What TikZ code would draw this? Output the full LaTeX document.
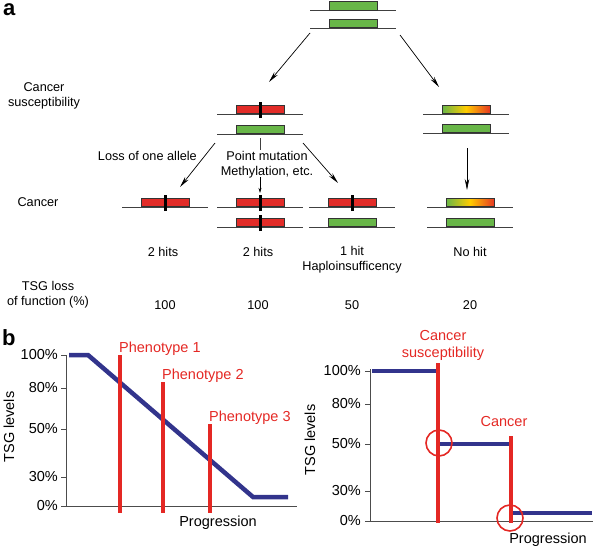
\documentclass[tikz,border=0pt]{standalone}
\usepackage{fontspec}
\setmainfont{Liberation Sans}
\usetikzlibrary{arrows.meta}
\definecolor{geneGreen}{RGB}{104,182,72}
\definecolor{geneRed}{RGB}{226,44,40}
\definecolor{tsgBlue}{RGB}{50,52,140}
\definecolor{cutRed}{RGB}{228,40,36}
\tikzset{
  chromline/.style={draw=black!75, line width=0.8pt},
  genebox/.style={draw=black!80, line width=0.6pt, minimum width=48pt, minimum height=8.5pt, inner sep=0pt, anchor=south},
  greenbox/.style={genebox, fill=geneGreen},
  redbox/.style={genebox, fill=geneRed},
  gradbox/.style={genebox, left color=geneGreen, right color=geneRed!85!orange, middle color=yellow!60!orange},
  hitbar/.style={line width=3pt, black},
  arr/.style={-{Stealth[length=11pt,width=4.5pt]}, line width=0.7pt},
  smallarr/.style={-{Stealth[length=5pt,width=3pt]}, line width=0.6pt},
  tsgline/.style={tsgBlue, line width=4.5pt},
  cutline/.style={cutRed, line width=4pt},
  ring/.style={cutRed, line width=1.6pt},
  axisline/.style={black!70, line width=0.8pt},
  lbla/.style={font=\fontsize{12.7}{15}\selectfont, align=center, inner sep=0pt},
  lblb/.style={font=\fontsize{14.5}{17}\selectfont, align=center, inner sep=0pt},
  redlbl/.style={lblb, text=cutRed},
  panel/.style={font=\fontsize{22}{22}\selectfont\bfseries, inner sep=0pt, anchor=north west}
}
% one chromosome: name, centre x, y, box style
\newcommand{\chromo}[4]{%
  \draw[chromline] (#2-43,#3) -- (#2+43,#3);
  \node[#4] (#1) at (#2,#3) {};}
\begin{document}
\begin{tikzpicture}[x=1pt,y=-1pt]
\useasboundingbox (0,0) rectangle (600,549);
% panel a
\node[panel] (pa) at (3,3) {a};
\chromo{t1}{353}{10.3}{greenbox}
\chromo{t2}{353}{28}{greenbox}
\chromo{m1}{260}{114}{redbox}
\chromo{m2}{260}{134}{greenbox}
\chromo{r1}{466}{114}{gradbox}
\chromo{r2}{466}{133}{greenbox}
\chromo{b1}{165}{207}{redbox}
\chromo{p2a}{260}{207}{redbox}
\chromo{p2b}{260}{227}{redbox}
\chromo{p3a}{352}{207}{redbox}
\chromo{p3b}{352}{227}{greenbox}
\chromo{p4a}{470}{207}{gradbox}
\chromo{p4b}{470}{227}{greenbox}
\foreach \g in {m1,b1,p2a,p2b,p3a}
  \draw[hitbar] ([yshift=-4pt]\g.south) -- ([yshift=3pt]\g.north);
\coordinate (a1s) at (310,33);  \coordinate (a1e) at (269,82);
\coordinate (a2s) at (400,35);  \coordinate (a2e) at (439,87);
\coordinate (a3s) at (215,143); \coordinate (a3e) at (180,187);
\coordinate (a4s) at (303,143); \coordinate (a4e) at (338,183);
\coordinate (a5s) at (467,148); \coordinate (a5e) at (467,190);
\draw[arr] (a1s) -- (a1e);
\draw[arr] (a2s) -- (a2e);
\draw[arr] (a3s) -- (a3e);
\draw[arr] (a4s) -- (a4e);
\draw[arr] (a5s) -- (a5e);
\draw[chromline] ([yshift=-4pt]m2.south) -- ([yshift=-16pt]m2.south);
\draw[smallarr] ([yshift=-43pt]m2.south) -- ([yshift=5pt]p2a.north);
\node[lbla] (susc) at (44,96) {Cancer\\susceptibility};
\node[lbla] (canc) at (38,202) {Cancer};
\node[lbla] (loss) at (48,295) {TSG loss\\of function (\%)};
\node[lbla, anchor=east] (allele) at (197,156) {Loss of one allele};
\node[lbla] (pmut) at (267,164.5) {Point mutation\\Methylation, etc.};
\node[lbla] (h1) at (163,252) {2 hits};
\node[lbla] (h2) at (258,252) {2 hits};
\node[lbla] (h3) at (352,260) {1 hit\\Haploinsufficency};
\node[lbla] (h4) at (470,252) {No hit};
\node[lbla] (v1) at (165,305) {100};
\node[lbla] (v2) at (258,305) {100};
\node[lbla] (v3) at (352,305) {50};
\node[lbla] (v4) at (470,305) {20};
% panel b, left graph
\node[panel] (pb) at (2,329) {b};
\draw[axisline] (66,355) -- (66,506) -- (297,506);
\foreach \v/\y in {100/355,80/388,50/429,30/477,0/506}{
  \draw[axisline] (61,\y) -- (66,\y);
  \node[lblb, anchor=east] (ya\v) at (58,\y) {\v\%};
}
\draw[tsgline] (69,355) -- (88,355) -- (253,497) -- (288,497);
\foreach \x/\t/\n in {120/355/1,163/382/2,210/424/3}{
  \draw[cutline] (\x,\t) -- (\x,513);
  \node[redlbl, anchor=base west] (ph\n) at (\x-1,\t-3) {Phenotype \n};
}
\node[lblb, rotate=90] (yla) at (9,427) {TSG levels};
\node[lblb] (xla) at (218,523) {Progression};
% panel b, right graph
\draw[axisline] (370,369) -- (370,521) -- (593,521);
\foreach \v/\y in {100/371,80/404,50/444,30/491,0/521}{
  \draw[axisline] (365,\y) -- (370,\y);
  \node[lblb, anchor=east] (yb\v) at (361,\y) {\v\%};
}
\draw[tsgline] (372,371) -- (437,371);
\draw[tsgline] (440,444) -- (509,444);
\draw[tsgline] (513,513) -- (592,513);
\draw[cutline] (438,363) -- (438,523);
\draw[cutline] (511,436) -- (511,523);
\draw[ring] (439,443) circle (13pt);
\draw[ring] (510,518) circle (13pt);
\node[redlbl] (cs) at (443,345) {Cancer\\susceptibility};
\node[redlbl] (cc) at (504,422) {Cancer};
\node[lblb, rotate=90] (ylb) at (310,440) {TSG levels};
\node[lblb] (xlb) at (548,540) {Progression};
\end{tikzpicture}
\end{document}
